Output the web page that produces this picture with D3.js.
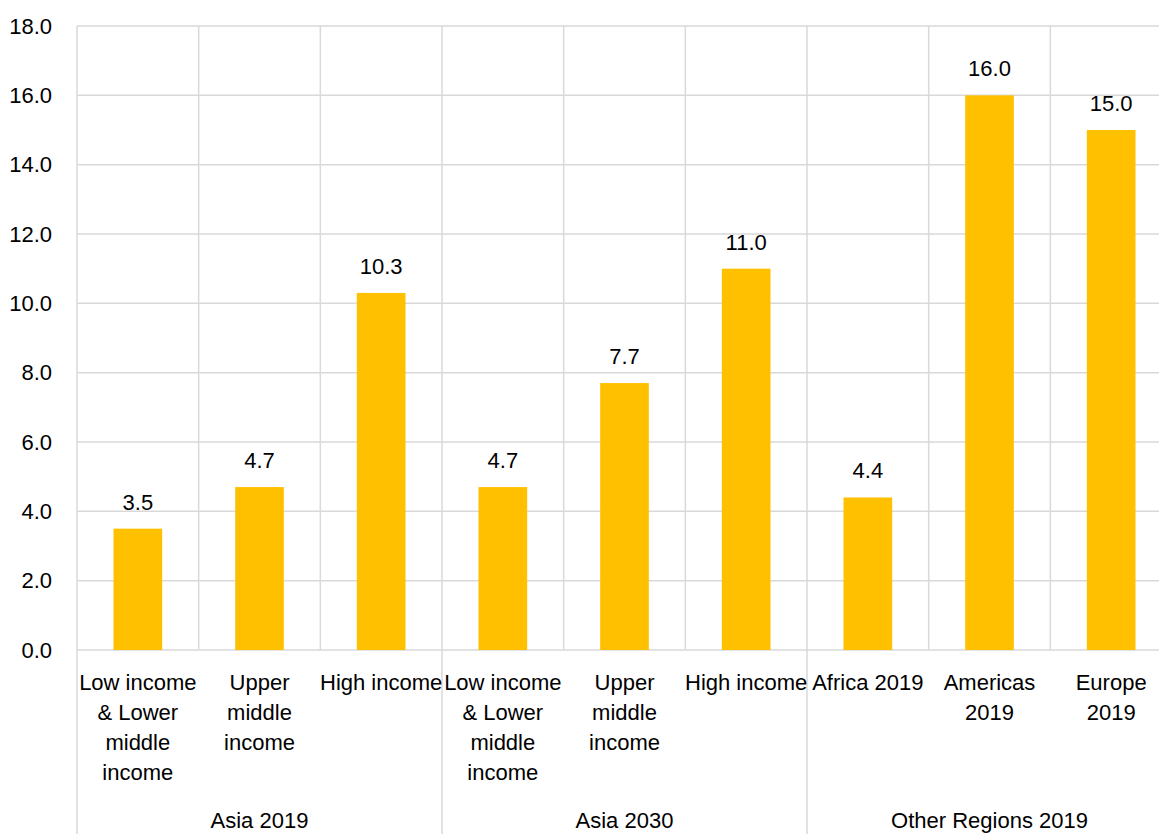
<!DOCTYPE html>
<html>
<head>
<meta charset="utf-8">
<script src="https://cdn.jsdelivr.net/npm/d3@7"></script>
<style>
  html, body { margin: 0; padding: 0; background: #fff; }
  svg { display: block; font-family: "Liberation Sans", Arial, sans-serif; }
</style>
</head>
<body>
<svg id="chart" width="1159" height="834"></svg>
<script>
// Category labels (one entry per line), grouped under region/year headers
const categories = [
  ["Low income", "& Lower", "middle", "income"],
  ["Upper", "middle", "income"],
  ["High income"],
  ["Low income", "& Lower", "middle", "income"],
  ["Upper", "middle", "income"],
  ["High income"],
  ["Africa 2019"],
  ["Americas", "2019"],
  ["Europe", "2019"]
];
const values = [3.5, 4.7, 10.3, 4.7, 7.7, 11.0, 4.4, 16.0, 15.0];
const groups = ["Asia 2019", "Asia 2030", "Other Regions 2019"];
const groupSizes = [3, 3, 3];
const yTicks = [0, 2, 4, 6, 8, 10, 12, 14, 16, 18];

const svg = d3.select("#chart");
const W = 1159, H = 834;
const plotLeft = 77, plotRight = 1172, plotTop = 26, plotBottom = 650;
const gridColor = "#d9d9d9";

const x = d3.scaleBand()
  .domain(d3.range(values.length))
  .range([plotLeft, plotRight])
  .paddingInner(0)
  .paddingOuter(0);
const y = d3.scaleLinear().domain([0, 18]).range([plotBottom, plotTop]);

const g = svg.append("g");

// horizontal gridlines
g.selectAll("line.hgrid").data(yTicks).join("line")
  .attr("x1", plotLeft).attr("x2", plotRight)
  .attr("y1", d => y(d)).attr("y2", d => y(d))
  .attr("stroke", gridColor).attr("stroke-width", 1.5);

// y-axis tick labels
const yAxis = d3.axisLeft(y).tickValues(yTicks).tickFormat(d3.format(".1f")).tickSize(0).tickPadding(25);
const ya = g.append("g").attr("transform", `translate(${plotLeft},0)`).call(yAxis);
ya.select(".domain").remove();
ya.selectAll("text").attr("font-size", 22).attr("fill", "#000")
  .attr("font-family", "Liberation Sans, Arial, sans-serif");

// vertical category separators within the plot
g.selectAll("line.vgrid").data(d3.range(values.length + 1)).join("line")
  .attr("x1", i => plotLeft + i * x.bandwidth()).attr("x2", i => plotLeft + i * x.bandwidth())
  .attr("y1", plotTop).attr("y2", plotBottom)
  .attr("stroke", gridColor).attr("stroke-width", 1.5);

// group separators extending through the label area
const groupStarts = [0];
groupSizes.forEach((s, i) => groupStarts.push(groupStarts[i] + s));
g.selectAll("line.gsep").data(groupStarts).join("line")
  .attr("x1", i => plotLeft + i * x.bandwidth()).attr("x2", i => plotLeft + i * x.bandwidth())
  .attr("y1", plotBottom).attr("y2", H)
  .attr("stroke", gridColor).attr("stroke-width", 1.5);

// bars
const barW = x.bandwidth() * 0.4;
g.selectAll("rect.bar").data(values).join("rect")
  .attr("x", (d, i) => x(i) + (x.bandwidth() - barW) / 2)
  .attr("y", d => y(d))
  .attr("width", barW)
  .attr("height", d => y(0) - y(d))
  .attr("fill", "#ffc000");

// value labels
g.selectAll("text.val").data(values).join("text")
  .attr("x", (d, i) => x(i) + x.bandwidth() / 2)
  .attr("y", d => y(d) - 19)
  .attr("text-anchor", "middle")
  .attr("font-size", 22)
  .text(d => d3.format(".1f")(d));

// category labels
const cat = g.selectAll("text.cat").data(categories).join("text")
  .attr("text-anchor", "middle")
  .attr("font-size", 22);
cat.each(function(lines, i) {
  d3.select(this).selectAll("tspan").data(lines).join("tspan")
    .attr("x", x(i) + x.bandwidth() / 2)
    .attr("y", (d, k) => 690 + k * 30)
    .text(d => d);
});

// group labels
g.selectAll("text.grp").data(groups).join("text")
  .attr("x", (d, i) => plotLeft + (groupStarts[i] + groupSizes[i] / 2) * x.bandwidth())
  .attr("y", 828)
  .attr("text-anchor", "middle")
  .attr("font-size", 22)
  .text(d => d);
</script>
</body>
</html>
